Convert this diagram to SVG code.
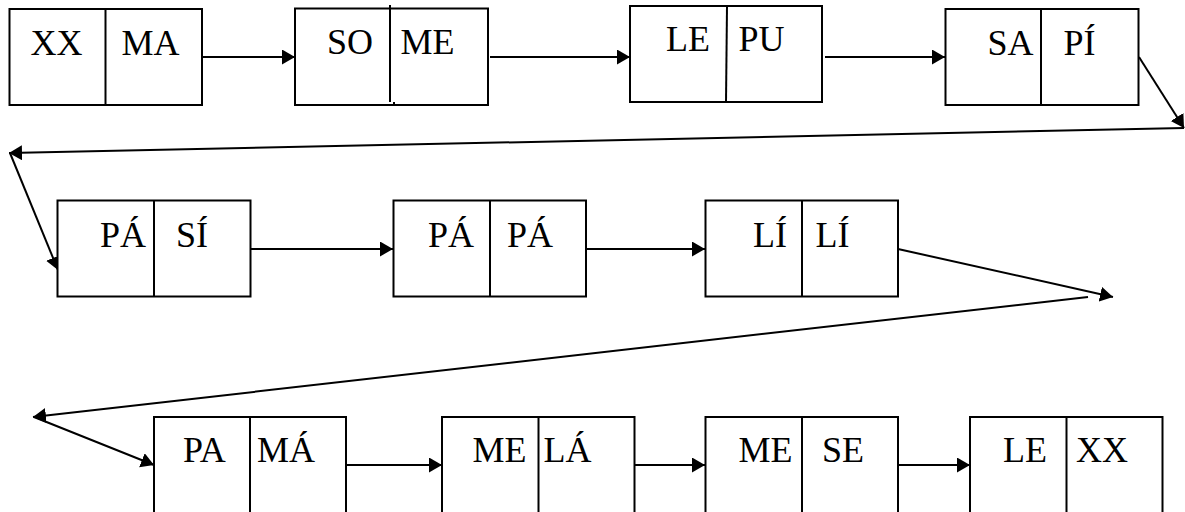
<svg xmlns="http://www.w3.org/2000/svg" width="1185" height="512" viewBox="0 0 1185 512">
<style>
.box{fill:#fff;stroke:#000;stroke-width:2}
.div{stroke:#000;stroke-width:2}
.lbl{font-family:"Liberation Serif","Times New Roman",serif;font-size:36px;fill:#000}
.con{stroke:#000;stroke-width:2;fill:none;marker-end:url(#ah)}
</style>
<defs>
<marker id="ah" markerUnits="userSpaceOnUse" markerWidth="14" markerHeight="16" refX="13" refY="7.5" orient="auto">
<path d="M0,0 L13,7.5 L0,15 z" fill="#000"/>
</marker>
</defs>
<rect width="1185" height="512" fill="#fff"/>
<g id="connectors">
<line class="con" x1="202" y1="57" x2="295" y2="57"/>
<line class="con" x1="490" y1="57" x2="630" y2="57"/>
<line class="con" x1="825" y1="57" x2="945" y2="57"/>
<line class="con" x1="1139" y1="57" x2="1184" y2="128"/>
<line class="con" x1="1184" y1="128" x2="9" y2="153"/>
<line class="con" x1="10" y1="153" x2="58" y2="270"/>
<line class="con" x1="251" y1="249" x2="393" y2="249"/>
<line class="con" x1="586" y1="249" x2="705" y2="249"/>
<line class="con" x1="898" y1="249" x2="1113" y2="297"/>
<line class="con" x1="1088" y1="297" x2="33" y2="417"/>
<line class="con" x1="34" y1="417" x2="154" y2="465"/>
<line class="con" x1="346" y1="465" x2="442" y2="465"/>
<line class="con" x1="634" y1="465" x2="705" y2="465"/>
<line class="con" x1="898" y1="465" x2="970" y2="465"/>
</g>
<g id="n1"><rect class="box" x="9.5" y="9" width="192.5" height="96"/><line class="div" x1="105.5" y1="9" x2="105.5" y2="105"/><text class="lbl" x="30.5" y="55">XX</text><text class="lbl" x="121.5" y="55">MA</text></g>
<g id="n2"><rect class="box" x="295" y="8.5" width="193" height="96.5"/><line class="div" x1="390" y1="5" x2="390" y2="102"/><line class="div" x1="394" y1="102" x2="394" y2="105"/><text class="lbl" x="327" y="54">SO</text><text class="lbl" x="400.5" y="54">ME</text></g>
<g id="n3"><rect class="box" x="630" y="6" width="192" height="96"/><line class="div" x1="727" y1="6" x2="726" y2="102"/><text class="lbl" x="666" y="51">LE</text><text class="lbl" x="738.5" y="51">PU</text></g>
<g id="n4"><rect class="box" x="945.5" y="9" width="193" height="96"/><line class="div" x1="1041" y1="9" x2="1041" y2="105"/><text class="lbl" x="987.5" y="55">SA</text><text class="lbl" x="1063.5" y="55">PÍ</text></g>
<g id="n5"><rect class="box" x="57.5" y="200.5" width="193" height="96"/><line class="div" x1="154" y1="200.5" x2="154" y2="296.5"/><text class="lbl" x="100" y="246.5">PÁ</text><text class="lbl" x="176" y="246.5">SÍ</text></g>
<g id="n6"><rect class="box" x="393.5" y="200.5" width="192.5" height="96"/><line class="div" x1="490" y1="200.5" x2="490" y2="296.5"/><text class="lbl" x="428" y="246.5">PÁ</text><text class="lbl" x="507" y="246.5">PÁ</text></g>
<g id="n7"><rect class="box" x="705.5" y="200.5" width="192.5" height="96"/><line class="div" x1="802" y1="200.5" x2="802" y2="296.5"/><text class="lbl" x="753" y="246.5">LÍ</text><text class="lbl" x="815.5" y="246.5">LÍ</text></g>
<g id="n8"><rect class="box" x="154" y="417" width="192" height="120"/><line class="div" x1="250" y1="417" x2="250" y2="537"/><text class="lbl" x="183" y="462">PA</text><text class="lbl" x="257" y="462">MÁ</text></g>
<g id="n9"><rect class="box" x="442" y="417" width="192.5" height="120"/><line class="div" x1="538.5" y1="417" x2="538.5" y2="537"/><text class="lbl" x="472.5" y="462">ME</text><text class="lbl" x="543.5" y="462">LÁ</text></g>
<g id="n10"><rect class="box" x="705.5" y="417" width="192.5" height="120"/><line class="div" x1="802" y1="417" x2="802" y2="537"/><text class="lbl" x="738.5" y="462">ME</text><text class="lbl" x="822" y="462">SE</text></g>
<g id="n11"><rect class="box" x="970" y="417" width="192.5" height="120"/><line class="div" x1="1066.5" y1="417" x2="1066.5" y2="537"/><text class="lbl" x="1003" y="462">LE</text><text class="lbl" x="1076" y="462">XX</text></g>
</svg>
